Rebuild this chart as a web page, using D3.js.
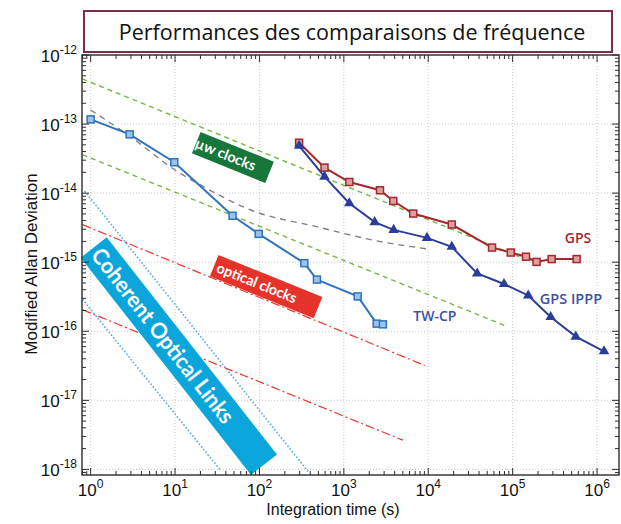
<!DOCTYPE html>
<html>
<head>
<meta charset="utf-8">
<script src="https://cdn.jsdelivr.net/npm/d3@7"></script>
<style>
  body { margin: 0; background: #fff; }
  svg { display: block; font-family: "Liberation Sans", Arial, sans-serif; }
</style>
</head>
<body>
<div id="chart"></div>
<script>
// Measured series (tau in s, modified Allan deviation)
const twcpTau = [1, 2.9, 9.8, 48, 98, 340, 480, 1460, 2450, 2900];
const twcpSigma = [1.17e-13, 7.1e-14, 2.8e-14, 4.7e-15, 2.57e-15, 9.7e-16, 5.6e-16, 3.2e-16, 1.29e-16, 1.26e-16];

const gpsTau = [295, 590, 1160, 2680, 3850, 6640, 19000, 57000, 95000, 144000, 192000, 290000, 573000];
const gpsSigma = [5.37e-14, 2.34e-14, 1.45e-14, 1.1e-14, 7.7e-15, 5.06e-15, 3.51e-15, 1.63e-15, 1.38e-15, 1.2e-15, 1.01e-15, 1.11e-15, 1.11e-15];

const ipppTau = [295, 590, 1160, 2320, 3890, 9660, 19000, 38000, 79000, 153000, 282000, 560000, 1210000];
const ipppSigma = [4.85e-14, 1.73e-14, 7.14e-15, 3.8e-15, 2.94e-15, 2.25e-15, 1.67e-15, 6.87e-16, 4.83e-16, 3.3e-16, 1.61e-16, 8.36e-17, 5.13e-17];

// Reference curves: [tau, sigma] end points
const uwClockLines = [
  [[0.8, 4.5e-13], [1.2e5, 1.2e-15]],
  [[0.8, 3.6e-14], [8.5e4, 1.18e-16]]
];
const maserTau = [1, 3, 10, 21, 79, 490, 2700, 9700];
const maserSigma = [1.6e-13, 6.5e-14, 2.16e-14, 1.27e-14, 5.7e-15, 3.24e-15, 1.99e-15, 1.56e-15];
const opticalClockLines = [
  [[0.8, 3.5e-15], [9100, 3.2e-17]],
  [[0.8, 2.05e-16], [5000, 2.65e-18]]
];
const opticalLinkLines = [
  [[0.86, 1.05e-14], [376, 9.4e-19]],
  [[0.81, 2.86e-16], [35.3, 9.4e-19]]
];

const xTickExp = [0, 1, 2, 3, 4, 5, 6];
const yTickExp = [-12, -13, -14, -15, -16, -17, -18];

const titleText = "Performances des comparaisons de fréquence";
const xLabel = "Integration time (s)";
const yLabel = "Modified Allan Deviation";
const seriesNames = ["TW-CP", "GPS", "GPS IPPP"];
const tagNames = ["µw clocks", "optical clocks", "Coherent Optical Links"];

const W = 621, H = 524;
const svg = d3.select("#chart").append("svg")
  .attr("width", W)
  .attr("height", H);

const x = d3.scaleLog().domain([0.79, 1.82e6]).range([82, 619]);
const y = d3.scaleLog().domain([8.3e-19, 1e-12]).range([475, 55]);
const [x0, x1] = x.range();
const [y0, y1] = y.range();

svg.append("clipPath").attr("id", "plot")
  .append("rect")
  .attr("x", x0).attr("y", y1)
  .attr("width", x1 - x0).attr("height", y0 - y1);

// grid
const grid = svg.append("g")
  .attr("stroke", "#c9c9c9")
  .attr("stroke-width", 1)
  .attr("stroke-dasharray", "1,2");
grid.selectAll(".gx").data(xTickExp).join("line")
  .attr("x1", d => x(10 ** d)).attr("x2", d => x(10 ** d))
  .attr("y1", y0).attr("y2", y1);
grid.selectAll(".gy").data(yTickExp).join("line")
  .attr("x1", x0).attr("x2", x1)
  .attr("y1", d => y(10 ** d)).attr("y2", d => y(10 ** d));

const line = d3.line().x(d => x(d[0])).y(d => y(d[1]));
const smooth = d3.line().x(d => x(d[0])).y(d => y(d[1])).curve(d3.curveMonotoneX);
const refs = svg.append("g").attr("clip-path", "url(#plot)").attr("fill", "none");

refs.selectAll(".uw").data(uwClockLines).join("path")
  .attr("d", line)
  .attr("stroke", "#79b443")
  .attr("stroke-width", 1.4)
  .attr("stroke-dasharray", "5,4");

refs.append("path")
  .attr("d", smooth(d3.zip(maserTau, maserSigma)))
  .attr("stroke", "#7f7f7f")
  .attr("stroke-width", 1.4)
  .attr("stroke-dasharray", "6,5");

refs.selectAll(".oc").data(opticalClockLines).join("path")
  .attr("d", line)
  .attr("stroke", "#e8352b")
  .attr("stroke-width", 1.2)
  .attr("stroke-dasharray", "9,3,2,3");

refs.selectAll(".ol").data(opticalLinkLines).join("path")
  .attr("d", line)
  .attr("stroke", "#62aee0")
  .attr("stroke-width", 1.8)
  .attr("stroke-linecap", "round")
  .attr("stroke-dasharray", "0.1,3.4");

// coloured tags
function tag(tau, sigma, w, h, angle, fill, text, size, textLen, shift) {
  const g = svg.append("g")
    .attr("transform", `translate(${x(tau)},${y(sigma)}) rotate(${angle})`);
  g.append("rect")
    .attr("x", -w / 2).attr("y", -h / 2)
    .attr("width", w).attr("height", h)
    .attr("fill", fill);
  g.append("text")
    .attr("x", shift).attr("y", 0)
    .attr("dy", "0.35em")
    .attr("text-anchor", "middle")
    .attr("fill", "#fff")
    .attr("textLength", textLen)
    .attr("lengthAdjust", "spacingAndGlyphs")
    .style("font-family", "Lato, 'Open Sans', sans-serif")
    .style("font-size", size + "px")
    .style("font-weight", 700)
    .text(text);
}
tag(48.5, 3.28e-14, 79, 23, 22, "#17763a", tagNames[0], 14.5, 64, -8);
tag(120, 4.43e-16, 112, 23, 22, "#e5332a", tagNames[1], 14.5, 85, -10);
tag(11.1, 4.37e-17, 276, 33, 51.9, "#0aa6db", tagNames[2], 22, 216, -26);

// measured series
const data = svg.append("g").attr("clip-path", "url(#plot)");

function series(tau, sigma, color) {
  data.append("path")
    .attr("d", line(d3.zip(tau, sigma)))
    .attr("fill", "none")
    .attr("stroke", color)
    .attr("stroke-width", 2);
}
series(twcpTau, twcpSigma, "#2f73bf");
series(gpsTau, gpsSigma, "#a3282d");
series(ipppTau, ipppSigma, "#2b3d9c");

function squares(tau, sigma, color, fill) {
  data.append("g").selectAll("rect")
    .data(d3.zip(tau, sigma))
    .join("rect")
    .attr("x", d => x(d[0]) - 3.5)
    .attr("y", d => y(d[1]) - 3.5)
    .attr("width", 7).attr("height", 7)
    .attr("fill", fill)
    .attr("stroke", color)
    .attr("stroke-width", 1.5);
}
squares(twcpTau, twcpSigma, "#2f73bf", "#9cc2ea");
squares(gpsTau, gpsSigma, "#a3282d", "#dca0a0");

data.append("g").selectAll("path")
  .data(d3.zip(ipppTau, ipppSigma))
  .join("path")
  .attr("transform", d => `translate(${x(d[0])},${y(d[1])})`)
  .attr("d", d3.symbol(d3.symbolTriangle).size(48))
  .attr("fill", "#2b3d9c");

// frame + ticks (inside, all four sides)
const ax = svg.append("g").attr("stroke", "#2b2b2b").attr("fill", "none");
ax.append("rect")
  .attr("x", x0).attr("y", y1)
  .attr("width", x1 - x0).attr("height", y0 - y1)
  .attr("stroke-width", 1.4);

const xMinor = [], yMinor = [];
d3.range(-1, 7).forEach(k => d3.range(2, 10).forEach(m => {
  const v = m * 10 ** k;
  if (v > x.domain()[0] && v < x.domain()[1]) xMinor.push(v);
}));
d3.range(-19, -12).forEach(k => d3.range(2, 10).forEach(m => {
  const v = m * 10 ** k;
  if (v > y.domain()[0] && v < y.domain()[1]) yMinor.push(v);
}));

function xTicks(vals, len) {
  ax.append("g").selectAll("path").data(vals).join("path")
    .attr("stroke-width", 1)
    .attr("d", d => `M${x(d)},${y0}v${-len}M${x(d)},${y1}v${len}`);
}
function yTicks(vals, len) {
  ax.append("g").selectAll("path").data(vals).join("path")
    .attr("stroke-width", 1)
    .attr("d", d => `M${x0},${y(d)}h${len}M${x1},${y(d)}h${-len}`);
}
xTicks(xTickExp.map(d => 10 ** d), 7);
xTicks(xMinor, 4);
yTicks(yTickExp.map(d => 10 ** d), 7);
yTicks(yMinor, 4);

// tick labels
const xl = svg.append("g").selectAll("text").data(xTickExp).join("text")
  .attr("x", d => x(10 ** d))
  .attr("y", 496)
  .attr("text-anchor", "middle")
  .style("font-size", "17px")
  .attr("fill", "#111");
xl.append("tspan").text("10");
xl.append("tspan").attr("dy", -8).style("font-size", "12px").text(d => d);

const yl = svg.append("g").selectAll("text").data(yTickExp).join("text")
  .attr("x", 77)
  .attr("y", d => y(10 ** d) + 7)
  .attr("text-anchor", "end")
  .style("font-size", "17px")
  .attr("fill", "#111");
yl.append("tspan").text("10");
yl.append("tspan").attr("dy", -8).style("font-size", "12px").text(d => d);

svg.append("text")
  .attr("x", 333).attr("y", 515)
  .attr("text-anchor", "middle")
  .style("font-size", "16px")
  .attr("fill", "#111")
  .text(xLabel);

svg.append("text")
  .attr("transform", "translate(37,264) rotate(-90)")
  .attr("text-anchor", "middle")
  .style("font-size", "17px")
  .attr("fill", "#111")
  .text(yLabel);

// series names
const nameStyle = (sel, color, size) => sel
  .attr("text-anchor", "middle")
  .attr("dy", "0.35em")
  .attr("fill", color)
  .style("font-family", "'Open Sans', sans-serif")
  .style("font-weight", 600)
  .style("font-size", size + "px");
svg.append("text").attr("x", x(1.2e4)).attr("y", y(1.68e-16))
  .call(nameStyle, "#3d4ea8", 14).text(seriesNames[0]);
svg.append("text").attr("x", x(5.94e5)).attr("y", y(2.25e-15))
  .call(nameStyle, "#a3282d", 14).text(seriesNames[1]);
svg.append("text").attr("x", x(4.9e5)).attr("y", y(2.96e-16))
  .call(nameStyle, "#3d4ea8", 14.5).text(seriesNames[2]);

// title box
svg.append("rect")
  .attr("x", 84).attr("y", 11)
  .attr("width", 528).attr("height", 41)
  .attr("fill", "#fff")
  .attr("stroke", "#7b2d4b")
  .attr("stroke-width", 2);
svg.append("text")
  .attr("x", 352).attr("y", 40)
  .attr("text-anchor", "middle")
  .style("font-family", "'Open Sans', sans-serif")
  .style("font-size", "21.5px")
  .attr("fill", "#111")
  .text(titleText);
</script>
</body>
</html>
